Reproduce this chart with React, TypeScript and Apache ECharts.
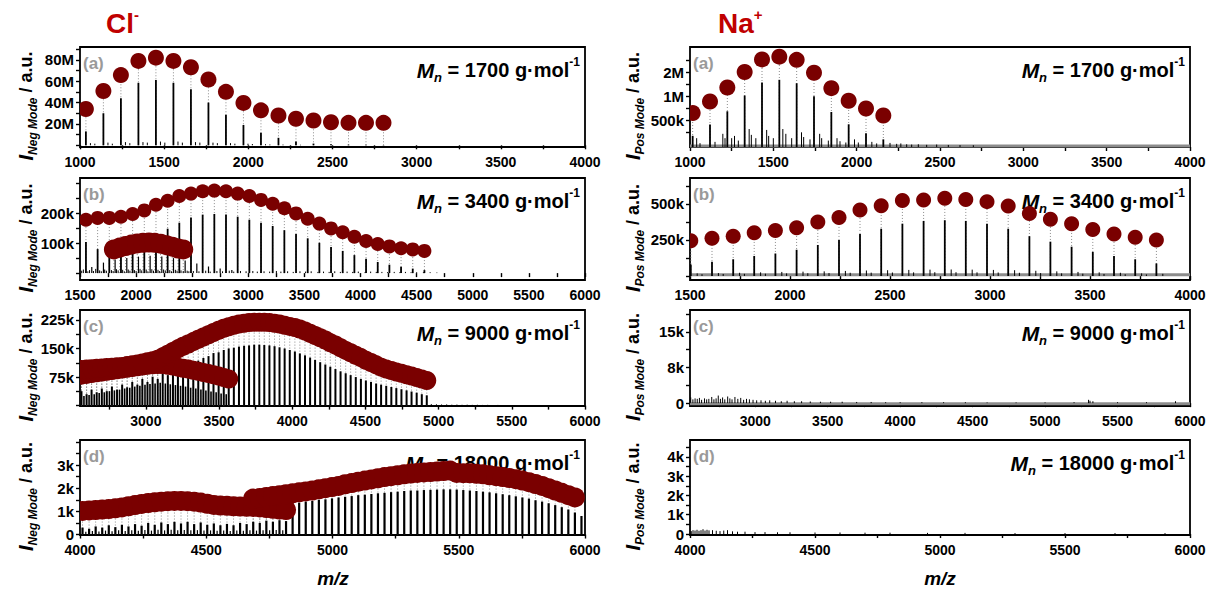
import React, { useEffect, useRef } from "react";
import * as echarts from "echarts";

const FONT = '"Liberation Sans", Arial, Helvetica, sans-serif';
const TITLE_RED = "#c00000";
const DOT_RED = "#7a0000";

const MN_VALUES = ["1700", "3400", "9000", "18000"];
const PANEL_TAGS = ["(a)", "(b)", "(c)", "(d)"];

// ---------- axes ----------
const L_X_MIN = [1000, 1500, 2550, 4000];
const L_X_MAX = [4000, 6000, 6000, 6000];
const R_X_MIN = [1000, 1500, 2550, 4000];
const R_X_MAX = [4000, 4000, 6000, 6000];
const L_X_LABELS = [
  [1000, 1500, 2000, 2500, 3000, 3500, 4000],
  [1500, 2000, 2500, 3000, 3500, 4000, 4500, 5000, 5500, 6000],
  [3000, 3500, 4000, 4500, 5000, 5500, 6000],
  [4000, 4500, 5000, 5500, 6000],
];
const R_X_LABELS = [
  [1000, 1500, 2000, 2500, 3000, 3500, 4000],
  [1500, 2000, 2500, 3000, 3500, 4000],
  [3000, 3500, 4000, 4500, 5000, 5500, 6000],
  [4000, 4500, 5000, 5500, 6000],
];

const L_Y_MIN = [-1.6e6, -23e3, -1e3, -20];
const L_Y_MAX = [92e6, 317e3, 251e3, 4080];
const L_Y_LABEL_VALUES = [[20e6, 40e6, 60e6, 80e6], [100e3, 200e3], [75e3, 150e3, 225e3], [0, 1000, 2000, 3000]];
const L_Y_LABEL_TEXT = [["20M", "40M", "60M", "80M"], ["100k", "200k"], ["75k", "150k", "225k"], ["0", "1k", "2k", "3k"]];
const L_Y_TICKS = [
  [0, 10e6, 20e6, 30e6, 40e6, 50e6, 60e6, 70e6, 80e6, 90e6],
  [0, 50e3, 100e3, 150e3, 200e3, 250e3, 300e3],
  [0, 37.5e3, 75e3, 112.5e3, 150e3, 187.5e3, 225e3],
  [0, 500, 1000, 1500, 2000, 2500, 3000, 3500, 4000],
];
const R_Y_MIN = [2.33e5, -28e3, -600, -50];
const R_Y_MAX = [4.1e6, 680e3, 19.6e3, 4870];
const R_Y_LABEL_VALUES = [[5e5, 1e6, 2e6], [250e3, 500e3], [0, 7500, 15000], [0, 1000, 2000, 3000, 4000]];
const R_Y_LABEL_TEXT = [["500k", "1M", "2M"], ["250k", "500k"], ["0", "8k", "15k"], ["0", "1k", "2k", "3k", "4k"]];
const R_Y_TICKS = [
  [3.54e5, 5e5, 7.07e5, 1e6, 1.41e6, 2e6, 2.83e6],
  [0, 125e3, 250e3, 375e3, 500e3, 625e3],
  [0, 3750, 7500, 11250, 15000, 18750],
  [0, 500, 1000, 1500, 2000, 2500, 3000, 3500, 4000, 4500],
];

// ---------- Cl- (a) ----------
const L_A_PEAKS = [[1035, 13e6], [1139, 30e6], [1243, 44e6], [1347, 58.5e6], [1451, 61e6], [1555, 58.5e6], [1659, 52.5e6], [1763, 40e6], [1867, 28.5e6], [1971, 19e6], [2075, 11.7e6], [2179, 7e6], [2283, 3.5e6], [2387, 1.6e6], [2491, 1.0e6], [2595, 0.6e6], [2699, 0.4e6], [2803, 0.3e6]];
const L_A_MINOR = [[1062, 2e6], [1088, 1.5e6], [1166, 2.5e6], [1192, 1.5e6], [1270, 3e6], [1296, 2e6], [1374, 3e6], [1400, 2.5e6], [1478, 3.5e6], [1504, 2.5e6], [1582, 3.5e6], [1608, 2.5e6], [1686, 3e6], [1712, 2.5e6], [1790, 2.5e6], [1816, 2e6], [1894, 2e6], [1920, 1.5e6], [1998, 1.5e6], [2024, 1.2e6], [2102, 1e6], [2128, 0.8e6], [2206, 0.7e6], [2310, 0.5e6]];
const L_A_CIRCLES = [[1035, 34e6], [1139, 50.8e6], [1243, 65.7e6], [1347, 79e6], [1451, 82e6], [1555, 79e6], [1659, 73e6], [1763, 61.6e6], [1867, 50e6], [1971, 39.7e6], [2075, 32.7e6], [2179, 27.9e6], [2283, 24.8e6], [2387, 23.2e6], [2491, 21.6e6], [2595, 21e6], [2699, 21e6], [2803, 21e6]];

// ---------- Cl- (b) ----------
const L_B_PEAKS = [[1553, 104e3], [1657, 80e3], [1761, 85e3], [1865, 95e3], [1969, 105e3], [2073, 118e3], [2177, 130e3], [2281, 148e3], [2385, 168e3], [2489, 185e3], [2593, 195e3], [2697, 197e3], [2801, 195e3], [2905, 188e3], [3009, 178e3], [3113, 168e3], [3217, 157e3], [3321, 143e3], [3425, 130e3], [3529, 116e3], [3633, 101e3], [3737, 87e3], [3841, 74e3], [3945, 60e3], [4049, 48e3], [4153, 37e3], [4257, 28e3], [4361, 21e3], [4465, 15e3], [4569, 10e3]];
const L_B_MID = [[1605, 20e3], [1709, 35e3], [1813, 45e3], [1917, 50e3], [2021, 55e3], [2125, 58e3], [2229, 55e3], [2333, 50e3], [2437, 42e3], [2541, 32e3], [2645, 22e3], [2749, 15e3], [2853, 10e3]];
const L_B_NOISE = [[1515, 8e3], [1530, 12e3], [1570, 6e3], [1585, 10e3], [1620, 7e3], [1640, 14e3], [1675, 9e3], [1690, 6e3], [1720, 12e3], [1735, 8e3], [1780, 10e3], [1795, 7e3], [1825, 13e3], [1840, 9e3], [1880, 11e3], [1895, 6e3], [1930, 12e3], [1945, 8e3], [1985, 10e3], [2000, 7e3], [2035, 14e3], [2050, 9e3], [2090, 12e3], [2105, 6e3], [2140, 13e3], [2155, 8e3], [2195, 11e3], [2210, 7e3], [2245, 12e3], [2260, 9e3], [2300, 10e3], [2315, 6e3], [2350, 11e3], [2365, 8e3], [2400, 9e3], [2420, 7e3], [2455, 8e3], [2470, 6e3], [2510, 7e3], [2560, 6e3], [2620, 8e3], [2660, 5e3], [2720, 7e3], [2770, 6e3], [2830, 8e3], [2870, 5e3], [2930, 7e3], [2980, 6e3], [3040, 7e3], [3080, 5e3], [3140, 6e3], [3190, 5e3], [3250, 7e3], [3290, 5e3], [3350, 6e3], [3400, 4e3], [3460, 6e3], [3510, 5e3], [3560, 6e3], [3620, 4e3], [3670, 5e3], [3720, 4e3], [3770, 6e3], [3820, 4e3], [3880, 5e3], [3930, 4e3], [3980, 5e3], [4040, 3e3], [4090, 5e3], [4140, 4e3], [4190, 4e3], [4240, 3e3], [4300, 4e3], [4350, 3e3], [4400, 4e3], [4450, 3e3], [4500, 3e3], [4560, 3e3], [4620, 3e3], [4680, 2e3]];
const L_B_CIRCLES_1 = [[1553, 178e3], [1657, 184e3], [1761, 184e3], [1865, 188e3], [1969, 197e3], [2073, 209e3], [2177, 228e3], [2281, 241e3], [2385, 257e3], [2489, 265e3], [2593, 273e3], [2697, 275e3], [2801, 273e3], [2905, 265e3], [3009, 257e3], [3113, 244e3], [3217, 231e3], [3321, 216e3], [3425, 199e3], [3529, 181e3], [3633, 165e3], [3737, 149e3], [3841, 136e3], [3945, 121e3], [4049, 107e3], [4153, 97e3], [4257, 89e3], [4361, 83e3], [4465, 79e3], [4569, 74e3]];
const L_B_CIRCLES_2 = [[1802, 79e3], [1854, 85e3], [1906, 90e3], [1958, 95e3], [2010, 99e3], [2062, 101e3], [2114, 102e3], [2166, 101e3], [2218, 98e3], [2270, 93e3], [2322, 88e3], [2374, 82e3], [2420, 79e3]];

// ---------- Cl- (c) ----------
const L_C_PEAKS = [[2560, 38e3], [2595, 30e3], [2629, 42e3], [2664, 35e3], [2699, 45e3], [2733, 38e3], [2768, 50e3], [2803, 42e3], [2838, 55e3], [2872, 48e3], [2907, 62e3], [2942, 55e3], [2976, 70e3], [3011, 62e3], [3046, 76e3], [3081, 70e3], [3115, 85e3], [3150, 80e3], [3185, 95e3], [3219, 90e3], [3254, 105e3], [3289, 105e3], [3324, 115e3], [3358, 118e3], [3393, 125e3], [3428, 130e3], [3462, 138e3], [3497, 140e3], [3532, 146e3], [3566, 150e3], [3601, 152e3], [3636, 155e3], [3671, 157e3], [3705, 158e3], [3740, 160e3], [3775, 160e3], [3809, 159e3], [3844, 158e3], [3879, 156e3], [3913, 153e3], [3948, 150e3], [3983, 146e3], [4018, 142e3], [4052, 137e3], [4087, 132e3], [4122, 126e3], [4156, 120e3], [4191, 114e3], [4226, 108e3], [4260, 102e3], [4295, 96e3], [4330, 90e3], [4365, 85e3], [4399, 80e3], [4434, 75e3], [4469, 70e3], [4503, 66e3], [4538, 62e3], [4573, 58e3], [4607, 55e3], [4642, 52e3], [4677, 49e3], [4711, 46e3], [4746, 43e3], [4781, 40e3], [4815, 37e3], [4850, 34e3], [4885, 30e3], [4919, 27e3]];
const L_C_PEAKS_2 = [[2577, 25e3], [2612, 28e3], [2647, 30e3], [2681, 33e3], [2716, 35e3], [2751, 38e3], [2785, 40e3], [2820, 42e3], [2855, 45e3], [2890, 47e3], [2924, 50e3], [2959, 52e3], [2994, 55e3], [3028, 57e3], [3063, 58e3], [3098, 60e3], [3133, 58e3], [3167, 56e3], [3202, 54e3], [3237, 52e3], [3271, 50e3], [3306, 47e3], [3341, 45e3], [3376, 42e3], [3410, 40e3], [3445, 37e3], [3480, 35e3], [3514, 32e3], [3549, 30e3]];
const L_C_NOISE = [[4950, 4e3], [4985, 3.5e3], [5020, 3e3], [5055, 3.2e3], [5090, 2.5e3], [5125, 2.8e3], [5160, 2.2e3], [5195, 2.5e3], [5230, 2e3], [5265, 2.2e3], [5300, 1.8e3], [5335, 2e3], [5370, 1.6e3], [5405, 1.8e3], [5440, 1.5e3], [5475, 1.6e3], [5510, 1.4e3], [5545, 1.5e3], [5580, 1.3e3], [5615, 1.4e3], [5650, 1.2e3], [5685, 1.3e3], [5720, 1.1e3], [5755, 1.2e3], [5790, 1e3], [5825, 1.1e3], [5860, 1e3], [5895, 1e3], [5930, 1e3], [5965, 1e3]];
const L_C_UPPER = [[2560, 95e3], [2595, 96e3], [2629, 97e3], [2664, 98e3], [2699, 99e3], [2733, 100e3], [2768, 101e3], [2803, 102e3], [2838, 103e3], [2872, 105e3], [2907, 107e3], [2942, 109e3], [2976, 112e3], [3011, 115e3], [3046, 118e3], [3081, 122e3], [3115, 128e3], [3150, 135e3], [3185, 142e3], [3219, 149e3], [3254, 156e3], [3289, 162e3], [3324, 168e3], [3358, 174e3], [3393, 180e3], [3428, 186e3], [3462, 192e3], [3497, 198e3], [3532, 203e3], [3566, 207e3], [3601, 211e3], [3636, 214e3], [3671, 216e3], [3705, 218e3], [3740, 219e3], [3775, 219e3], [3809, 219e3], [3844, 218e3], [3879, 216e3], [3913, 214e3], [3948, 211e3], [3983, 208e3], [4018, 205e3], [4052, 201e3], [4087, 196e3], [4122, 190e3], [4156, 184e3], [4191, 178e3], [4226, 172e3], [4260, 165e3], [4295, 159e3], [4330, 152e3], [4365, 145e3], [4399, 139e3], [4434, 132e3], [4469, 126e3], [4503, 119e3], [4538, 113e3], [4573, 107e3], [4607, 101e3], [4642, 96e3], [4677, 92e3], [4711, 88e3], [4746, 85e3], [4781, 81e3], [4815, 78e3], [4850, 74e3], [4885, 70e3], [4919, 66e3]];
const L_C_LOWER = [[2560, 80e3], [2595, 82e3], [2629, 84e3], [2664, 86e3], [2699, 88e3], [2733, 90e3], [2768, 92e3], [2803, 94e3], [2838, 96e3], [2872, 98e3], [2907, 100e3], [2942, 102e3], [2976, 104e3], [3011, 106e3], [3046, 107e3], [3081, 108e3], [3115, 108e3], [3150, 106e3], [3185, 104e3], [3219, 101e3], [3254, 98e3], [3289, 96e3], [3324, 93e3], [3358, 90e3], [3393, 87e3], [3428, 84e3], [3462, 81e3], [3497, 78e3], [3532, 74e3], [3566, 70e3]];

// ---------- Cl- (d) ----------
const L_D_PEAKS = [[4010, 300], [4036, 250], [4062, 350], [4088, 300], [4114, 400], [4140, 320], [4166, 420], [4192, 350], [4218, 450], [4244, 380], [4270, 500], [4296, 420], [4322, 520], [4348, 450], [4374, 550], [4400, 480], [4426, 550], [4452, 450], [4478, 520], [4504, 420], [4530, 480], [4556, 400], [4582, 460], [4608, 400], [4634, 500], [4660, 450], [4686, 550], [4712, 500], [4738, 600], [4764, 550], [4790, 620], [4816, 580], [4842, 1350], [4868, 1380], [4894, 1420], [4920, 1450], [4946, 1500], [4972, 1520], [4998, 1560], [5024, 1600], [5050, 1630], [5076, 1660], [5102, 1700], [5128, 1720], [5154, 1750], [5180, 1780], [5206, 1800], [5232, 1830], [5258, 1850], [5284, 1880], [5310, 1900], [5336, 1900], [5362, 1920], [5388, 1930], [5414, 1940], [5440, 1950], [5466, 1950], [5492, 1940], [5518, 1920], [5544, 1900], [5570, 1880], [5596, 1850], [5622, 1820], [5648, 1780], [5674, 1740], [5700, 1700], [5726, 1650], [5752, 1600], [5778, 1550], [5804, 1480], [5830, 1420], [5856, 1350], [5882, 1270], [5908, 1180], [5934, 1080], [5960, 950], [5986, 800]];
const L_D_NOISE = [[4023, 120], [4049, 150], [4075, 130], [4101, 170], [4127, 140], [4153, 180], [4179, 150], [4205, 190], [4231, 160], [4257, 200], [4283, 170], [4309, 210], [4335, 180], [4361, 210], [4387, 190], [4413, 200], [4439, 180], [4465, 190], [4491, 170], [4517, 180], [4543, 160], [4569, 170], [4595, 150], [4621, 170], [4647, 160], [4673, 180], [4699, 170], [4725, 190], [4751, 180], [4777, 200], [4803, 190]];
const L_D_UPPER = [[4686, 1550], [4712, 1580], [4738, 1620], [4764, 1660], [4790, 1700], [4816, 1740], [4842, 1780], [4868, 1820], [4894, 1860], [4920, 1900], [4946, 1950], [4972, 2000], [4998, 2050], [5024, 2100], [5050, 2170], [5076, 2220], [5102, 2280], [5128, 2330], [5154, 2380], [5180, 2430], [5206, 2480], [5232, 2520], [5258, 2560], [5284, 2600], [5310, 2630], [5336, 2660], [5362, 2680], [5388, 2700], [5414, 2720], [5440, 2740], [5466, 2760], [5492, 2660], [5518, 2650], [5544, 2640], [5570, 2620], [5596, 2600], [5622, 2560], [5648, 2520], [5674, 2480], [5700, 2440], [5726, 2390], [5752, 2330], [5778, 2260], [5804, 2180], [5830, 2100], [5856, 2000], [5882, 1900], [5908, 1800], [5934, 1700], [5960, 1600]];
const L_D_LOWER = [[4010, 1020], [4036, 1040], [4062, 1060], [4088, 1080], [4114, 1100], [4140, 1130], [4166, 1170], [4192, 1220], [4218, 1270], [4244, 1320], [4270, 1360], [4296, 1390], [4322, 1420], [4348, 1440], [4374, 1450], [4400, 1450], [4426, 1440], [4452, 1420], [4478, 1380], [4504, 1330], [4530, 1280], [4556, 1250], [4582, 1240], [4608, 1220], [4634, 1210], [4660, 1200], [4686, 1190], [4712, 1170], [4738, 1140], [4764, 1110], [4790, 1080], [4816, 1060]];

// ---------- Na+ (a) ----------
const R_A_PEAKS = [[1016, 321e3], [1120, 443e3], [1224, 649e3], [1328, 1.02e6], [1432, 1.48e6], [1536, 1.6e6], [1640, 1.45e6], [1744, 1.0e6], [1848, 636e3], [1952, 447e3], [2056, 345e3], [2160, 290e3]];
const R_A_MINOR = [[1040, 300e3], [1060, 260e3], [1150, 270e3], [1197, 340e3], [1210, 300e3], [1250, 300e3], [1267, 320e3], [1290, 280e3], [1355, 390e3], [1368, 330e3], [1395, 300e3], [1460, 380e3], [1472, 320e3], [1500, 300e3], [1557, 390e3], [1575, 340e3], [1610, 300e3], [1669, 355e3], [1682, 310e3], [1720, 290e3], [1778, 340e3], [1790, 300e3], [1830, 280e3], [1882, 300e3], [1900, 275e3], [1935, 265e3], [1987, 290e3], [2010, 265e3], [2091, 270e3], [2120, 258e3], [2200, 262e3], [2240, 255e3], [2265, 258e3], [2300, 252e3], [2330, 250e3], [2370, 252e3], [2420, 248e3], [2480, 250e3], [2550, 247e3], [2620, 246e3], [2700, 245e3]];
const R_A_CIRCLES = [[1016, 617e3], [1120, 860e3], [1224, 1.285e6], [1328, 2.0e6], [1432, 2.87e6], [1536, 3.11e6], [1640, 2.84e6], [1744, 1.96e6], [1848, 1.26e6], [1952, 877e3], [2056, 703e3], [2160, 575e3]];
const R_A_BASELINE = 2.4e5;

// ---------- Na+ (b) ----------
const R_B_PEAKS = [[1504, 80e3], [1610, 99e3], [1716, 116e3], [1821, 139e3], [1927, 156e3], [2033, 182e3], [2139, 215e3], [2245, 250e3], [2350, 292e3], [2456, 328e3], [2562, 363e3], [2668, 382e3], [2774, 387e3], [2879, 382e3], [2985, 363e3], [3091, 328e3], [3197, 276e3], [3302, 238e3], [3408, 203e3], [3514, 167e3], [3620, 139e3], [3726, 116e3], [3832, 87e3]];
const R_B_MINOR = [[1536, 18e3], [1642, 20e3], [1748, 22e3], [1853, 25e3], [1959, 28e3], [2065, 30e3], [2171, 32e3], [2277, 35e3], [2382, 38e3], [2488, 40e3], [2594, 42e3], [2700, 44e3], [2806, 45e3], [2911, 44e3], [3017, 42e3], [3123, 40e3], [3229, 36e3], [3334, 32e3], [3440, 28e3], [3546, 25e3], [3652, 22e3], [3758, 18e3], [3864, 15e3], [1560, 12e3], [1666, 14e3], [1772, 15e3], [1877, 16e3], [1983, 18e3], [2089, 19e3], [2195, 20e3], [2301, 22e3], [2406, 23e3], [2512, 24e3], [2618, 25e3], [2724, 26e3], [2830, 26e3], [2935, 25e3], [3041, 24e3], [3147, 22e3], [3253, 20e3], [3358, 18e3], [3464, 16e3], [3570, 14e3], [3676, 12e3], [3782, 11e3]];
const R_B_CIRCLES = [[1504, 245e3], [1610, 262e3], [1716, 276e3], [1821, 300e3], [1927, 316e3], [2033, 335e3], [2139, 375e3], [2245, 406e3], [2350, 458e3], [2456, 488e3], [2562, 524e3], [2668, 528e3], [2774, 540e3], [2879, 531e3], [2985, 516e3], [3091, 486e3], [3197, 434e3], [3302, 394e3], [3408, 363e3], [3514, 323e3], [3620, 292e3], [3726, 269e3], [3832, 250e3]];
const R_B_BASELINE = 8e3;

// ---------- Na+ (c), (d) ----------
const R_C_NOISE = [[2555, 1200], [2570, 800], [2585, 1000], [2600, 900], [2615, 1100], [2630, 700], [2650, 1000], [2665, 800], [2680, 900], [2700, 1300], [2715, 800], [2730, 1000], [2745, 1600], [2760, 900], [2775, 1200], [2790, 800], [2810, 1400], [2825, 1000], [2840, 800], [2860, 1300], [2880, 900], [2900, 1100], [2920, 700], [2940, 900], [2960, 800], [2985, 700], [3010, 600], [3040, 600], [3070, 500], [3100, 600], [3140, 500], [3180, 400], [3220, 500], [3270, 400], [3320, 400], [3380, 350], [3450, 300], [3520, 300], [3600, 300], [3700, 250], [3800, 250], [3900, 200], [4000, 200], [4150, 200], [4300, 200], [4450, 200], [4600, 150], [4800, 150], [5000, 150], [5200, 200], [5300, 700], [5310, 500], [5330, 400], [5500, 200], [5700, 200], [5900, 400]];
const R_C_BASELINE = -150;
const R_D_NOISE = [[4005, 150], [4012, 200], [4020, 180], [4028, 220], [4036, 170], [4044, 200], [4052, 250], [4060, 180], [4068, 220], [4076, 190], [4090, 200], [4105, 170], [4120, 150], [4135, 180], [4150, 200], [4170, 140], [4190, 120], [4220, 120], [4260, 100], [4300, 100], [4350, 90], [4400, 90], [4500, 80], [4600, 80], [4700, 70], [4800, 70], [4950, 60], [5100, 60], [5300, 50], [5500, 50], [5700, 50], [5900, 50]];

// ---------- layout ----------
const COL_LEFT = [80, 690];
const COL_WIDTH = [505, 500];
const ROW_TOP = [47, 178, 310, 440];
const ROW_HEIGHT = [100, 102, 96, 95];
const Y_TITLE_X = [26, 633];
const X_TITLE_X = [333, 940];
const CIRCLE_R_L = [8, 7, 9.5, 10];
const CIRCLE_R_R = [8, 7.5, 8, 8];

function pickLabel(vals: number[], txt: string[]) {
  return (v: number) => {
    for (let i = 0; i < vals.length; i++) {
      if (Math.abs(vals[i] - v) <= Math.abs(vals[i]) * 1e-6 + 1e-6) return txt[i];
    }
    return "";
  };
}

function minorTicks(labels: number[], min: number, max: number) {
  const out: number[] = [];
  labels.forEach((v) => {
    if (v - 250 >= min) out.push(v - 250);
    out.push(v);
  });
  if (labels[labels.length - 1] + 250 <= max) out.push(labels[labels.length - 1] + 250);
  return out;
}

function stems(gi: number, pts: number[][], base: number, color: string, width: number, z: number, dash?: number[]) {
  return {
    type: "custom",
    xAxisIndex: gi,
    yAxisIndex: gi,
    clip: true,
    silent: true,
    z,
    data: pts,
    encode: { x: 0, y: 1 },
    renderItem: (_p: any, api: any) => {
      const x = api.value(0);
      const y = api.value(1);
      const a = api.coord([x, base]);
      const b = api.coord([x, y]);
      return {
        type: "line",
        shape: { x1: a[0], y1: a[1], x2: b[0], y2: b[1] },
        style: { stroke: color, lineWidth: width, lineDash: dash || null },
      };
    },
  };
}

function circles(gi: number, pts: number[][], r: number) {
  return {
    type: "custom",
    xAxisIndex: gi,
    yAxisIndex: gi,
    clip: true,
    silent: true,
    z: 6,
    data: pts,
    encode: { x: 0, y: 1 },
    renderItem: (_p: any, api: any) => {
      const c = api.coord([api.value(0), api.value(1)]);
      return { type: "circle", shape: { cx: c[0], cy: c[1], r }, style: { fill: DOT_RED } };
    },
  };
}

function baseline(gi: number, xMin: number, xMax: number, y: number) {
  return {
    type: "line",
    xAxisIndex: gi,
    yAxisIndex: gi,
    silent: true,
    symbol: "none",
    z: 2,
    data: [[xMin, y], [xMax, y]],
    lineStyle: { color: "#8c8c8c", width: 3 },
  };
}

function buildOption() {
  const grids: any[] = [];
  const xAxes: any[] = [];
  const yAxes: any[] = [];
  const graphics: any[] = [];

  for (let c = 0; c < 2; c++) {
    for (let r = 0; r < 4; r++) {
      const gi = c * 4 + r;
      const left = COL_LEFT[c];
      const width = COL_WIDTH[c];
      const top = ROW_TOP[r];
      const height = ROW_HEIGHT[r];
      grids.push({ left, top, width, height, show: true, borderColor: "#000", borderWidth: 1.8, backgroundColor: "transparent", containLabel: false });
      const xMin = c === 0 ? L_X_MIN[r] : R_X_MIN[r];
      const xMax = c === 0 ? L_X_MAX[r] : R_X_MAX[r];
      const xLabels = c === 0 ? L_X_LABELS[r] : R_X_LABELS[r];
      xAxes.push({
        gridIndex: gi,
        type: "value",
        min: xMin,
        max: xMax,
        axisLine: { show: false },
        splitLine: { show: false },
        axisTick: { show: true, inside: false, length: 4, lineStyle: { color: "#000", width: 1.4 }, customValues: minorTicks(xLabels, xMin, xMax) },
        axisLabel: {
          customValues: xLabels,
          formatter: (v: number) => String(Math.round(v)),
          color: "#000",
          fontFamily: FONT,
          fontWeight: "bold",
          fontSize: 14,
          margin: 8,
        },
      });
      const yMin = c === 0 ? L_Y_MIN[r] : R_Y_MIN[r];
      const yMax = c === 0 ? L_Y_MAX[r] : R_Y_MAX[r];
      const yVals = c === 0 ? L_Y_LABEL_VALUES[r] : R_Y_LABEL_VALUES[r];
      const yTxt = c === 0 ? L_Y_LABEL_TEXT[r] : R_Y_LABEL_TEXT[r];
      const yTicks = c === 0 ? L_Y_TICKS[r] : R_Y_TICKS[r];
      const isLog = c === 1 && r === 0;
      yAxes.push({
        gridIndex: gi,
        type: isLog ? "log" : "value",
        logBase: 10,
        min: yMin,
        max: yMax,
        axisLine: { show: false },
        splitLine: { show: false },
        minorTick: { show: false },
        axisTick: { show: true, inside: false, length: 4, lineStyle: { color: "#000", width: 1.4 }, customValues: yTicks },
        axisLabel: {
          customValues: yVals,
          formatter: pickLabel(yVals, yTxt),
          color: "#000",
          fontFamily: FONT,
          fontWeight: "bold",
          fontSize: 15,
          margin: 6,
        },
      });

      // panel tag
      graphics.push({
        type: "text",
        x: left + 3,
        y: top + 16,
        z: 1,
        style: { text: PANEL_TAGS[r], fill: "#9a9a9a", font: `bold 17px ${FONT}`, align: "left", verticalAlign: "middle" },
      });
      // Mn label
      graphics.push({
        type: "text",
        x: left + width - 5,
        y: top + 23,
        z: 1,
        style: {
          text: `{m|M}{n|n}{t| = ${MN_VALUES[r]} g·mol}{p|-1}`,
          align: "right",
          verticalAlign: "middle",
          fill: "#000",
          rich: {
            m: { fontFamily: FONT, fontSize: 21, fontWeight: "bold", fontStyle: "italic", lineHeight: 28, fill: "#000" },
            n: { fontFamily: FONT, fontSize: 13, fontWeight: "bold", fontStyle: "italic", lineHeight: 13, verticalAlign: "bottom", fill: "#000" },
            t: { fontFamily: FONT, fontSize: 20, fontWeight: "bold", lineHeight: 28, fill: "#000" },
            p: { fontFamily: FONT, fontSize: 12, fontWeight: "bold", lineHeight: 12, verticalAlign: "top", fill: "#000" },
          },
        },
      });
      // y title
      graphics.push({
        type: "text",
        x: Y_TITLE_X[c],
        y: top + height / 2 + 9,
        rotation: Math.PI / 2,
        z: 1,
        style: {
          text: `{i|I}{s|${c === 0 ? "Neg" : "Pos"} Mode}{t| / a.u.}`,
          align: "center",
          verticalAlign: "middle",
          rich: {
            i: { fontFamily: FONT, fontSize: 20, fontWeight: "bold", fontStyle: "italic", lineHeight: 26, fill: "#000" },
            s: { fontFamily: FONT, fontSize: 12, fontWeight: "bold", fontStyle: "italic", lineHeight: 13, verticalAlign: "bottom", fill: "#000" },
            t: { fontFamily: FONT, fontSize: 18, fontWeight: "bold", lineHeight: 26, fill: "#000" },
          },
        },
      });
    }
    graphics.push({
      type: "text",
      x: X_TITLE_X[c],
      y: 578,
      style: { text: "m/z", font: `italic bold 19px ${FONT}`, fill: "#000", align: "center", verticalAlign: "middle" },
    });
  }

  graphics.push({
    type: "text",
    x: 106,
    y: 23,
    style: {
      text: "{b|Cl}{s|-}",
      align: "left",
      verticalAlign: "middle",
      rich: {
        b: { fontFamily: FONT, fontSize: 28, fontWeight: "bold", fill: TITLE_RED, lineHeight: 32 },
        s: { fontFamily: FONT, fontSize: 15, fontWeight: "bold", fill: TITLE_RED, lineHeight: 15, verticalAlign: "top" },
      },
    },
  });
  graphics.push({
    type: "text",
    x: 718,
    y: 23,
    style: {
      text: "{b|Na}{s|+}",
      align: "left",
      verticalAlign: "middle",
      rich: {
        b: { fontFamily: FONT, fontSize: 28, fontWeight: "bold", fill: TITLE_RED, lineHeight: 32 },
        s: { fontFamily: FONT, fontSize: 15, fontWeight: "bold", fill: TITLE_RED, lineHeight: 15, verticalAlign: "top" },
      },
    },
  });

  const DOT_C = "#6e6e6e";
  const DASH = [1, 2];
  const series: any[] = [
    // Cl- (a)
    stems(0, L_A_CIRCLES, 0, DOT_C, 0.8, 2, DASH),
    stems(0, L_A_MINOR, 0, "#000", 1, 3),
    stems(0, L_A_PEAKS, 0, "#000", 1.8, 4),
    circles(0, L_A_CIRCLES, CIRCLE_R_L[0]),
    // Cl- (b)
    stems(1, L_B_CIRCLES_1, 0, DOT_C, 0.8, 2, DASH),
    stems(1, L_B_CIRCLES_2, 0, DOT_C, 0.8, 2, DASH),
    stems(1, L_B_NOISE, 0, "#000", 1, 3),
    stems(1, L_B_MID, 0, "#000", 1.2, 3),
    stems(1, L_B_PEAKS, 0, "#000", 1.8, 4),
    circles(1, L_B_CIRCLES_1, CIRCLE_R_L[1]),
    circles(1, L_B_CIRCLES_2, 10),
    // Cl- (c)
    stems(2, L_C_UPPER, 0, DOT_C, 0.8, 2, DASH),
    stems(2, L_C_LOWER, 0, DOT_C, 0.8, 2, DASH),
    stems(2, L_C_NOISE, 0, "#000", 1, 3),
    stems(2, L_C_PEAKS_2, 0, "#000", 1.6, 3),
    stems(2, L_C_PEAKS, 0, "#000", 2, 4),
    circles(2, L_C_LOWER, CIRCLE_R_L[2]),
    circles(2, L_C_UPPER, CIRCLE_R_L[2]),
    // Cl- (d)
    stems(3, L_D_UPPER, 0, DOT_C, 0.8, 2, DASH),
    stems(3, L_D_LOWER, 0, DOT_C, 0.8, 2, DASH),
    stems(3, L_D_NOISE, 0, "#000", 1.2, 3),
    stems(3, L_D_PEAKS, 0, "#000", 2.2, 4),
    circles(3, L_D_LOWER, CIRCLE_R_L[3]),
    circles(3, L_D_UPPER, CIRCLE_R_L[3]),
    // Na+ (a)
    baseline(4, R_X_MIN[0], R_X_MAX[0], R_A_BASELINE),
    stems(4, R_A_CIRCLES, R_Y_MIN[0], DOT_C, 0.8, 2, DASH),
    stems(4, R_A_MINOR, R_Y_MIN[0], "#000", 1, 3),
    stems(4, R_A_PEAKS, R_Y_MIN[0], "#000", 1.8, 4),
    circles(4, R_A_CIRCLES, CIRCLE_R_R[0]),
    // Na+ (b)
    baseline(5, R_X_MIN[1], R_X_MAX[1], R_B_BASELINE),
    stems(5, R_B_CIRCLES, 0, DOT_C, 0.8, 2, DASH),
    stems(5, R_B_MINOR, 0, "#000", 1, 3),
    stems(5, R_B_PEAKS, 0, "#000", 1.8, 4),
    circles(5, R_B_CIRCLES, CIRCLE_R_R[1]),
    // Na+ (c)
    baseline(6, R_X_MIN[2], R_X_MAX[2], R_C_BASELINE),
    stems(6, R_C_NOISE, 0, "#000", 1, 3),
    // Na+ (d)
    stems(7, R_D_NOISE, 0, "#000", 1, 3),
  ];

  return {
    animation: false,
    backgroundColor: "#fff",
    grid: grids,
    xAxis: xAxes,
    yAxis: yAxes,
    graphic: { elements: graphics },
    series,
  };
}

export default function App() {
  const ref = useRef<HTMLDivElement>(null);
  useEffect(() => {
    if (!ref.current) return;
    const chart = echarts.init(ref.current, null, { renderer: "svg" });
    chart.setOption(buildOption() as any);
    return () => chart.dispose();
  }, []);
  return (
    <div
      ref={ref}
      style={{ position: "absolute", left: 0, top: 0, width: 1211, height: 591, background: "#fff" }}
    />
  );
}
